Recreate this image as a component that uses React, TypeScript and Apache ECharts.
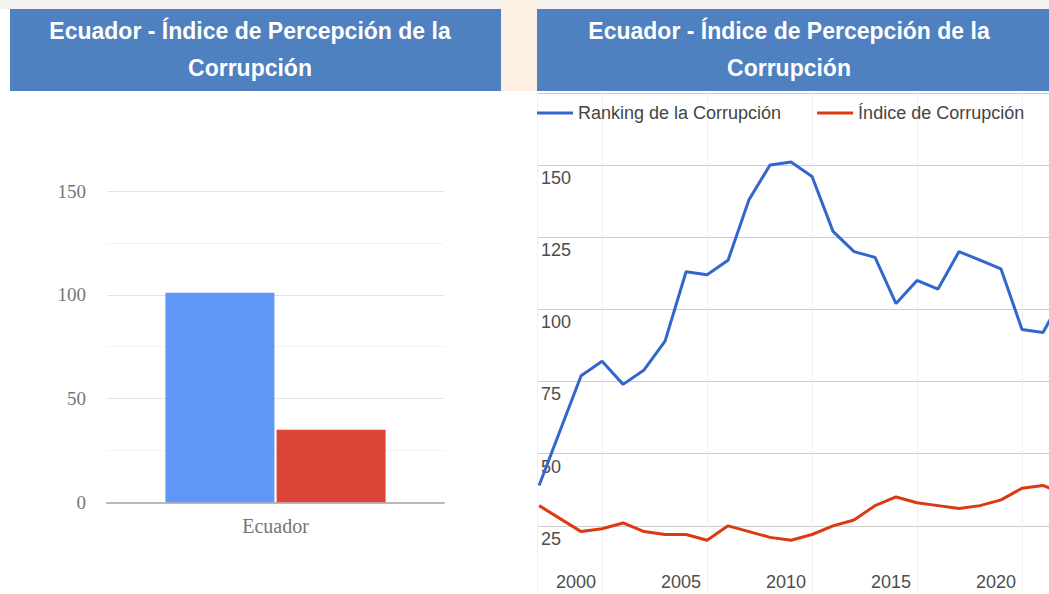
import React, { useEffect, useRef } from "react";
import * as echarts from "echarts";

// ---- Data ----
const TITLE = "Ecuador - Índice de Percepción de la\nCorrupción";
const barCategories = ["Ecuador"];
const barRanking = [101];
const barIndex = [35];

const lineYears = [1997, 1999, 2000, 2001, 2002, 2003, 2004, 2005, 2006, 2007, 2008, 2009, 2010, 2011, 2012, 2013, 2014, 2015, 2016, 2017, 2018, 2019, 2020, 2021, 2022];
const rankingValues = [39, 77, 82, 74, 79, 89, 113, 112, 117, 138, 150, 151, 146, 127, 120, 118, 102, 110, 107, 120, 117, 114, 93, 92, 105];
const indexValues = [32, 23, 24, 26, 23, 22, 22, 20, 25, 23, 21, 20, 22, 25, 27, 32, 35, 33, 32, 31, 32, 34, 38, 39, 36];

const SERIES_NAMES = ["Ranking de la Corrupción", "Índice de Corrupción"];

const SANS = "'Liberation Sans', Arial, sans-serif";
const SERIF = "'Liberation Serif', 'Times New Roman', serif";

export default function App() {
  const ref = useRef<HTMLDivElement>(null);

  useEffect(() => {
    if (!ref.current) return;
    const chart = echarts.init(ref.current, null, { renderer: "svg" });
    const headerBlue = "#4f80bf";
    const option: any = {
      animation: false,
      backgroundColor: "#ffffff",
      graphic: [
        { type: "rect", shape: { x: 0, y: 0, width: 1049, height: 9 }, style: { fill: "#f3f2f0" }, z: 0 },
        { type: "rect", shape: { x: 501, y: 0, width: 36, height: 91 }, style: { fill: "#fdf0e0" }, z: 0 },
        { type: "rect", shape: { x: 10, y: 9, width: 491, height: 82 }, style: { fill: headerBlue }, z: 1 },
        { type: "rect", shape: { x: 537, y: 9, width: 512, height: 82 }, style: { fill: headerBlue }, z: 1 },
        {
          type: "text", x: 250, y: 49, z: 2,
          style: { text: TITLE, align: "center", verticalAlign: "middle", fill: "#ffffff", font: `bold 23px ${SANS}`, lineHeight: 37 },
        },
        {
          type: "text", x: 789, y: 49, z: 2,
          style: { text: TITLE, align: "center", verticalAlign: "middle", fill: "#ffffff", font: `bold 23px ${SANS}`, lineHeight: 37 },
        },
      ],
      legend: {
        data: SERIES_NAMES,
        left: 537,
        top: 104,
        padding: 0,
        icon: "rect",
        itemWidth: 36,
        itemHeight: 3,
        itemGap: 36,
        textStyle: { fontFamily: SANS, fontSize: 18, color: "#444444" },
      },
      grid: [
        { left: 107, top: 191, width: 337, height: 311.3, outerBoundsMode: "none" },
        { left: 537, top: 92.8, width: 527, height: 505.2, outerBoundsMode: "none" },
      ],
      xAxis: [
        {
          gridIndex: 0,
          type: "category",
          data: barCategories,
          axisTick: { show: false },
          axisLine: { lineStyle: { color: "#b8b8b8", width: 2 } },
          axisLabel: { fontFamily: SERIF, fontSize: 20, color: "#757575", margin: 14 },
        },
        {
          gridIndex: 1,
          type: "value",
          min: 1996.9,
          max: 2022,
          minInterval: 5,
          maxInterval: 5,
          axisLine: { show: false },
          axisTick: { show: false },
          splitLine: { show: true, lineStyle: { color: "#f0f0f0", width: 1 } },
          axisLabel: {
            inside: true,
            margin: 7,
            showMinLabel: false,
            showMaxLabel: false,
            fontFamily: SANS,
            fontSize: 18,
            color: "#4d4d4d",
            padding: [0, 52, 0, 0],
            formatter: (v: number) => String(v),
          },
        },
      ],
      yAxis: [
        {
          gridIndex: 0,
          type: "value",
          min: 0,
          max: 150,
          interval: 25,
          axisLine: { show: false },
          axisTick: { show: false },
          splitLine: { lineStyle: { color: ["#e2e2e2", "#f3f3f3"], width: 1 } },
          axisLabel: {
            fontFamily: SERIF,
            fontSize: 19,
            color: "#757575",
            margin: 21,
            formatter: (v: number) => (v % 50 === 0 ? String(v) : ""),
          },
        },
        {
          gridIndex: 1,
          type: "value",
          min: 0,
          max: 175,
          interval: 25,
          axisLine: { show: false },
          axisTick: { show: false },
          splitLine: { lineStyle: { color: "#cccccc", width: 1 } },
          axisLabel: {
            inside: true,
            margin: 4,
            showMinLabel: false,
            showMaxLabel: false,
            fontFamily: SANS,
            fontSize: 18,
            lineHeight: 18,
            color: "#4d4d4d",
            verticalAlign: "top",
            padding: [4, 0, 0, 0],
          },
        },
      ],
      series: [
        {
          name: "Ranking (barra)",
          type: "bar",
          xAxisIndex: 0,
          yAxisIndex: 0,
          data: barRanking,
          barWidth: 109,
          barGap: "2%",
          itemStyle: { color: "#5e97f5" },
        },
        {
          name: "Índice (barra)",
          type: "bar",
          xAxisIndex: 0,
          yAxisIndex: 0,
          data: barIndex,
          barWidth: 109,
          barGap: "2%",
          itemStyle: { color: "#db4437" },
        },
        {
          name: SERIES_NAMES[0],
          type: "line",
          xAxisIndex: 1,
          yAxisIndex: 1,
          data: lineYears.map((y, i) => [y, rankingValues[i]]),
          showSymbol: false,
          lineStyle: { color: "#3366cc", width: 3 },
          itemStyle: { color: "#3366cc" },
        },
        {
          name: SERIES_NAMES[1],
          type: "line",
          xAxisIndex: 1,
          yAxisIndex: 1,
          data: lineYears.map((y, i) => [y, indexValues[i]]),
          showSymbol: false,
          lineStyle: { color: "#dc3912", width: 3 },
          itemStyle: { color: "#dc3912" },
        },
      ],
    };
    chart.setOption(option);
    return () => chart.dispose();
  }, []);

  return (
    <div
      ref={ref}
      style={{ position: "absolute", left: 0, top: 0, width: 1049, height: 594, overflow: "hidden" }}
    />
  );
}
